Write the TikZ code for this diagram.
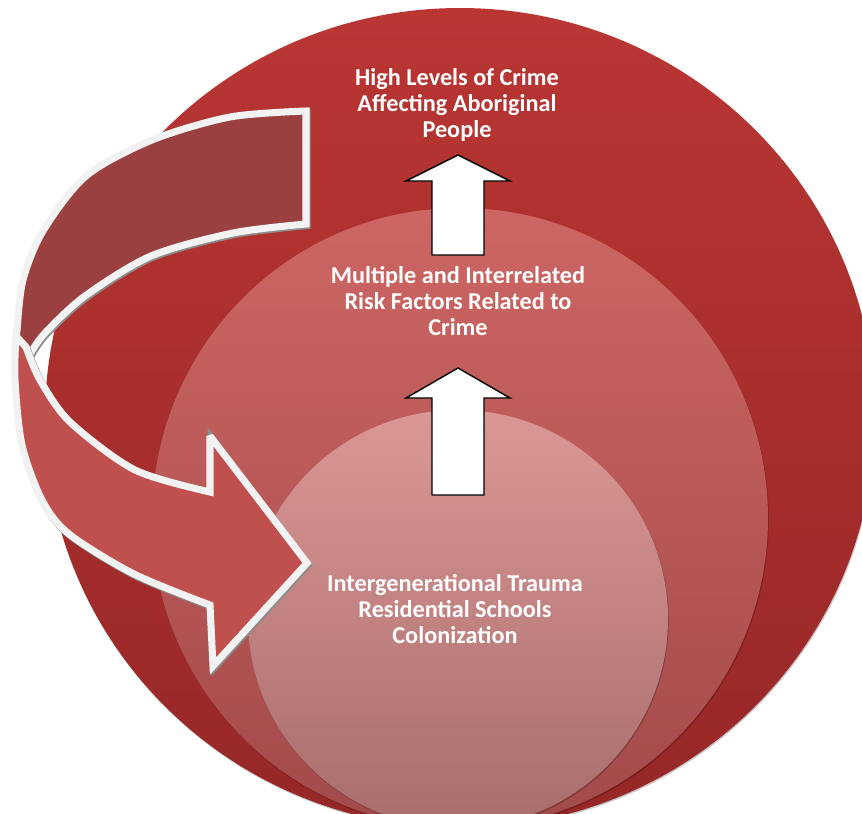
\documentclass[tikz,border=0pt]{standalone}
\usepackage{fontspec}
\setmainfont{Carlito}
\usepackage{tikz}

\definecolor{outerTop}{HTML}{B93633}
\definecolor{outerBottom}{HTML}{962727}
\definecolor{middleTop}{HTML}{CD6663}
\definecolor{middleBottom}{HTML}{A24A4A}
\definecolor{innerTop}{HTML}{DA9795}
\definecolor{innerBottom}{HTML}{A86D6D}
\definecolor{ribbonDark}{HTML}{9A4040}
\definecolor{ribbonLight}{HTML}{C0504D}
\definecolor{ribbonEdge}{HTML}{F2F2F2}

\tikzset{level disc/.style={preaction={fill=black, opacity=.22, transform canvas={xshift=.7pt, yshift=-1.2pt}}}}
\tikzset{level text/.style={text=white, align=center, inner sep=0pt, font=\bfseries\fontsize{20.7}{22.4}\selectfont}}
\tikzset{up block/.style={draw=black, fill=white, line width=1.2pt, line join=miter}}
\tikzset{ribbon/.style={draw=ribbonEdge, line width=6pt, line join=miter, miter limit=3,
  preaction={draw=black!45, line width=6pt, transform canvas={xshift=1pt, yshift=-1.4pt}}}}

\begin{document}
\begin{tikzpicture}[x=0.03cm, y=-0.03cm]
\useasboundingbox (0,0) rectangle (862,814);
\clip (0,0) rectangle (862,814);

% three levels, bottom to top
\path[level disc, top color=outerTop, bottom color=outerBottom] (460,418) ellipse [x radius=415, y radius=410];
\path[level disc, top color=middleTop, bottom color=middleBottom] (460,518) ellipse [x radius=308, y radius=310];
\path[level disc, top color=innerTop, bottom color=innerBottom] (458,619) ellipse [x radius=210, y radius=209];

% curved ribbon arrow
\path[ribbon, fill=ribbonDark] (306,111)
  -- plot[smooth] coordinates {(306,111) (230,117) (152,140) (86,176) (43,231) (23,280) (17,330) (16,352)}
  -- plot[smooth] coordinates {(30,354) (45,333) (85,296) (151,256) (233,233) (306,224)}
  -- cycle;
\path[ribbon, fill=ribbonLight] (16,336)
  -- plot[smooth] coordinates {(16,336) (15,380) (22,445) (42,500) (69,534) (134,574) (210,605)}
  -- (213,666) -- (307,563) -- (210,436) -- (210,492)
  -- plot[smooth] coordinates {(210,492) (135,470) (70,422) (40,380) (26,347)}
  -- cycle;

% block arrows between the levels
\draw[up block] (432,255) -- (432,181) -- (406,181) -- (458,155) -- (510,181) -- (484,181) -- (484,255) -- cycle;
\draw[up block] (432,495) -- (432,398) -- (406,398) -- (458,368) -- (510,398) -- (484,398) -- (484,495) -- cycle;

\node[level text] (crime) at (457,105) {High Levels of Crime\\Affecting Aboriginal\\People};
\node[level text] (risk) at (458,301) {Multiple and Interrelated\\Risk Factors Related to\\Crime};
\node[level text] (trauma) at (455,609) {Intergenerational Trauma\\Residential Schools\\Colonization};

\end{tikzpicture}
\end{document}
